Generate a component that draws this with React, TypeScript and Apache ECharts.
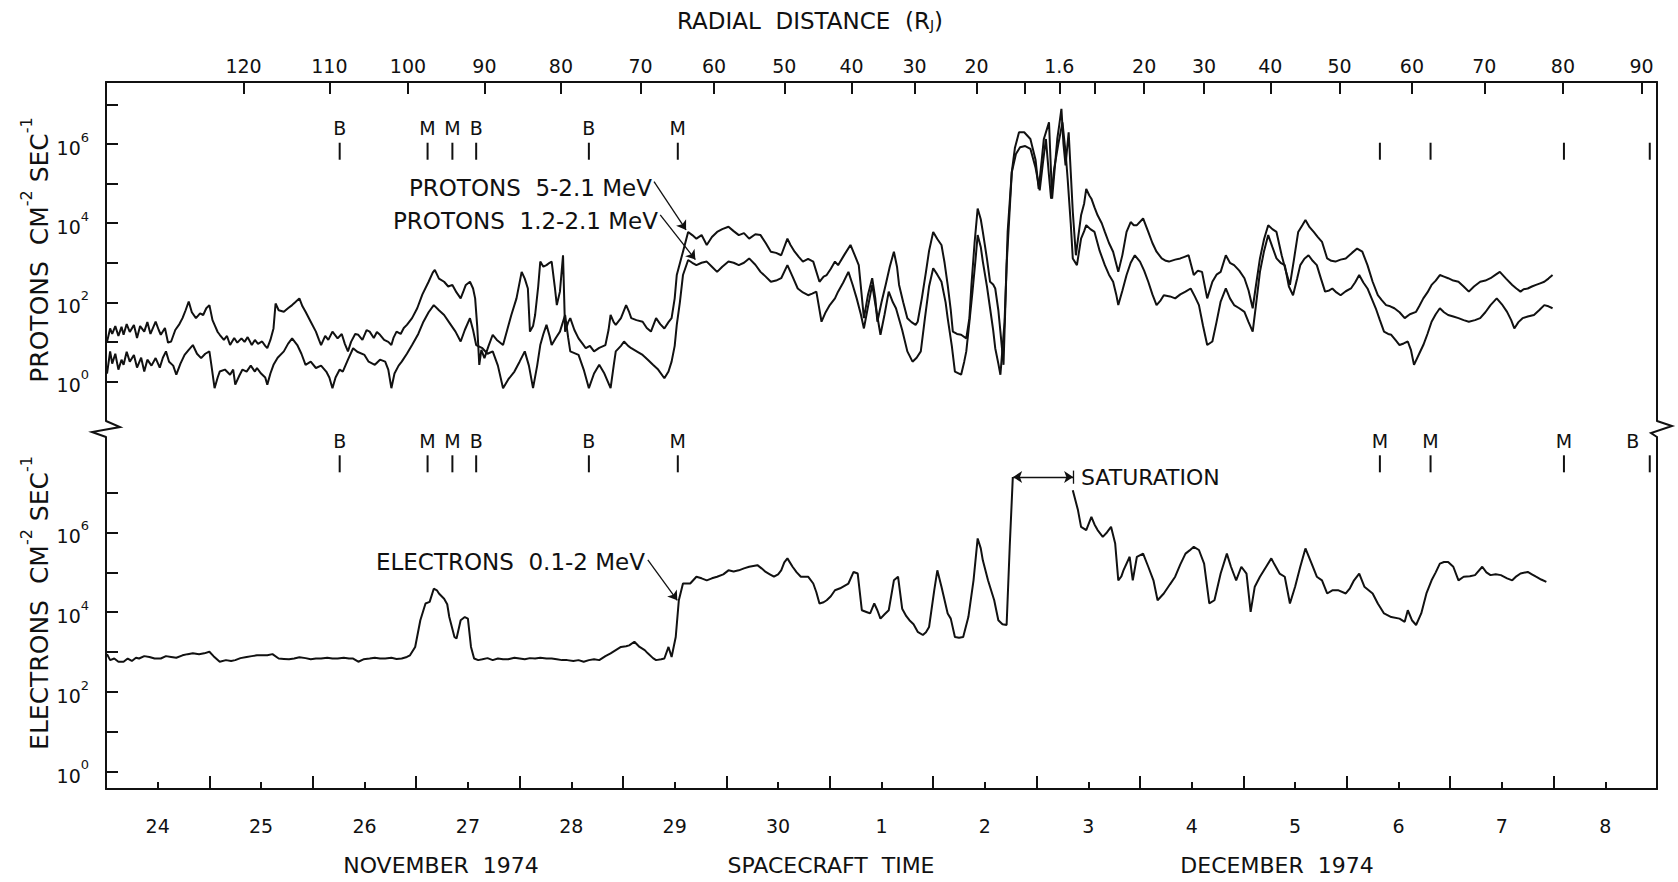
import { useEffect, useRef } from "react";
import * as echarts from "echarts";

// Time axis: days counted from the "24" (Nov 24) tick. Flux values: log10(flux).
const dateTickDays = [0, 1, 2, 3, 4, 5, 6, 7, 8, 9, 10, 11, 12, 13, 14];
const dateTickLabels = ["24", "25", "26", "27", "28", "29", "30", "1", "2", "3", "4", "5", "6", "7", "8"];
const halfDayTickDays = [0.5, 1.5, 2.5, 3.5, 4.5, 5.5, 6.5, 7.5, 8.5, 9.5, 10.5, 11.5, 12.5, 13.5];

const radialTickDays = [0.83, 1.66, 2.42, 3.16, 3.9, 4.67, 5.38, 6.06, 6.71, 7.32, 7.92, 8.39, 8.72, 9.06, 9.54, 10.12, 10.76, 11.43, 12.13, 12.83, 13.59, 14.35];
const radialTickLabels = ["120", "110", "100", "90", "80", "70", "60", "50", "40", "30", "20", "", "1.6", "", "20", "30", "40", "50", "60", "70", "80", "90"];

const decadeTicks = [0, 1, 2, 3, 4, 5, 6, 7];
const decadeLabels = [0, 2, 4, 6];

const markerDays = [1.76, 2.61, 2.85, 3.08, 4.17, 5.03, 11.82, 12.31, 13.6, 14.43];
const protonMarkerLetters = ["B", "M", "M", "B", "B", "M", "", "", "", ""];
const electronMarkerLetters = ["B", "M", "M", "B", "B", "M", "M", "M", "M", "B"];

// PROTONS .5-2.1 MeV  [day, log10 flux]
const protonsHigh = [
  [-0.49, 1.0], [-0.46, 1.34], [-0.44, 1.2], [-0.41, 1.4], [-0.38, 1.15], [-0.35, 1.38], [-0.33, 1.18], [-0.3, 1.45], [-0.27, 1.25], [-0.23, 1.43],
  [-0.2, 1.1], [-0.17, 1.4], [-0.13, 1.26], [-0.1, 1.5], [-0.07, 1.2], [-0.02, 1.51], [0.01, 1.3], [0.03, 1.18], [0.07, 1.35], [0.1, 0.98],
  [0.13, 1.01], [0.17, 1.3], [0.21, 1.45], [0.24, 1.6], [0.27, 1.8], [0.3, 2.02], [0.33, 1.75], [0.37, 1.6], [0.41, 1.72], [0.44, 1.68],
  [0.47, 1.85], [0.5, 1.93], [0.53, 1.55], [0.55, 1.43], [0.58, 1.25], [0.6, 1.18], [0.64, 1.05], [0.67, 1.15], [0.7, 0.92], [0.74, 1.1],
  [0.77, 0.98], [0.81, 1.09], [0.84, 1.0], [0.87, 1.12], [0.91, 0.92], [0.94, 1.05], [0.97, 0.95], [1.01, 1.01], [1.04, 0.9], [1.06, 0.84],
  [1.09, 1.05], [1.12, 1.34], [1.14, 1.97], [1.17, 1.8], [1.22, 1.76], [1.26, 1.85], [1.3, 1.93], [1.33, 2.0], [1.37, 2.1], [1.4, 1.9],
  [1.43, 1.76], [1.48, 1.51], [1.53, 1.26], [1.56, 1.05], [1.58, 0.92], [1.62, 1.15], [1.65, 1.05], [1.69, 1.26], [1.74, 1.09], [1.78, 1.2],
  [1.81, 0.95], [1.84, 0.76], [1.87, 1.0], [1.91, 1.2], [1.94, 1.18], [1.98, 1.05], [2.02, 1.3], [2.05, 1.26], [2.09, 1.1], [2.12, 1.25],
  [2.15, 1.18], [2.19, 1.05], [2.23, 1.0], [2.26, 0.92], [2.28, 1.1], [2.31, 1.26], [2.35, 1.2], [2.38, 1.35], [2.41, 1.43], [2.46, 1.6],
  [2.51, 1.85], [2.56, 2.2], [2.62, 2.52], [2.66, 2.75], [2.68, 2.82], [2.72, 2.6], [2.77, 2.52], [2.81, 2.4], [2.85, 2.44], [2.89, 2.25],
  [2.93, 2.1], [2.96, 2.3], [2.98, 2.44], [3.02, 2.52], [3.05, 2.35], [3.07, 2.1], [3.09, 1.4], [3.11, 0.42], [3.13, 0.8], [3.16, 0.59],
  [3.2, 0.9], [3.24, 1.18], [3.28, 1.05], [3.34, 0.92], [3.38, 1.3], [3.42, 1.68], [3.47, 2.1], [3.52, 2.77], [3.55, 2.6], [3.58, 2.35],
  [3.6, 1.26], [3.63, 1.4], [3.65, 1.68], [3.68, 2.4], [3.7, 3.03], [3.73, 2.9], [3.76, 2.94], [3.79, 3.0], [3.81, 3.03], [3.84, 2.4],
  [3.86, 1.93], [3.89, 2.27], [3.92, 3.19], [3.94, 1.26], [3.97, 1.5], [3.99, 1.6], [4.03, 1.3], [4.07, 1.09], [4.11, 0.95], [4.14, 0.84],
  [4.18, 0.9], [4.22, 0.76], [4.27, 0.85], [4.33, 0.92], [4.36, 1.3], [4.38, 1.68], [4.41, 1.5], [4.43, 1.43], [4.48, 1.6], [4.53, 1.93],
  [4.56, 1.75], [4.58, 1.6], [4.63, 1.55], [4.69, 1.51], [4.73, 1.35], [4.77, 1.26], [4.82, 1.6], [4.86, 1.45], [4.9, 1.34], [4.94, 1.5],
  [4.97, 1.6], [5.0, 2.1], [5.02, 2.69], [5.08, 3.28], [5.13, 3.78], [5.17, 3.7], [5.21, 3.61], [5.26, 3.7], [5.31, 3.45], [5.36, 3.65],
  [5.41, 3.78], [5.46, 3.85], [5.52, 3.91], [5.57, 3.8], [5.62, 3.7], [5.67, 3.75], [5.72, 3.61], [5.78, 3.72], [5.83, 3.7], [5.88, 3.5],
  [5.93, 3.28], [5.98, 3.25], [6.03, 3.19], [6.09, 3.61], [6.12, 3.45], [6.16, 3.28], [6.2, 3.15], [6.24, 3.03], [6.29, 3.1], [6.34, 3.03],
  [6.4, 2.52], [6.44, 2.65], [6.47, 2.69], [6.51, 2.85], [6.55, 3.03], [6.58, 2.94], [6.64, 3.2], [6.7, 3.45], [6.74, 3.2], [6.78, 2.94],
  [6.83, 1.6], [6.87, 2.2], [6.91, 2.61], [6.94, 2.1], [6.96, 1.51], [7.0, 2.0], [7.04, 2.44], [7.08, 2.9], [7.12, 3.28], [7.15, 2.9],
  [7.17, 2.44], [7.21, 2.0], [7.25, 1.6], [7.29, 1.5], [7.33, 1.43], [7.35, 1.51], [7.39, 2.1], [7.43, 2.77], [7.46, 3.3], [7.5, 3.78],
  [7.54, 3.6], [7.58, 3.45], [7.61, 3.0], [7.64, 2.44], [7.67, 1.8], [7.69, 1.26], [7.73, 1.2], [7.77, 1.18], [7.82, 1.09], [7.85, 1.6],
  [7.87, 2.44], [7.9, 3.5], [7.93, 4.37], [7.96, 4.1], [7.98, 3.78], [8.02, 3.1], [8.05, 2.52], [8.08, 2.45], [8.1, 2.35], [8.13, 1.8],
  [8.15, 1.26], [8.18, 0.42], [8.22, 3.78], [8.26, 5.29], [8.29, 5.9], [8.33, 6.3], [8.38, 6.3], [8.44, 6.13], [8.49, 5.6], [8.52, 4.87],
  [8.55, 5.6], [8.57, 6.13], [8.62, 6.55], [8.65, 4.62], [8.7, 6.13], [8.72, 6.5], [8.74, 6.89], [8.76, 6.0], [8.78, 5.46], [8.81, 6.3],
  [8.83, 5.3], [8.85, 4.29], [8.88, 3.19], [8.9, 3.6], [8.93, 4.2], [8.96, 4.5], [8.98, 4.87], [9.01, 4.7], [9.03, 4.62], [9.06, 4.4],
  [9.09, 4.2], [9.13, 4.0], [9.16, 3.78], [9.2, 3.5], [9.24, 3.28], [9.29, 2.77], [9.33, 3.2], [9.37, 3.78], [9.41, 4.03], [9.44, 3.95],
  [9.47, 3.95], [9.53, 4.12], [9.58, 3.78], [9.62, 3.5], [9.66, 3.28], [9.71, 3.11], [9.75, 3.05], [9.78, 3.03], [9.84, 3.08], [9.89, 3.11],
  [9.93, 3.15], [9.97, 3.19], [10.02, 2.69], [10.06, 2.8], [10.1, 2.77], [10.15, 2.1], [10.2, 2.52], [10.24, 2.7], [10.28, 2.77], [10.33, 3.19],
  [10.37, 3.0], [10.41, 2.94], [10.46, 2.8], [10.51, 2.61], [10.55, 2.3], [10.59, 1.85], [10.62, 2.4], [10.66, 3.11], [10.7, 3.6], [10.74, 3.95],
  [10.78, 3.85], [10.82, 3.78], [10.87, 3.19], [10.91, 2.8], [10.95, 2.44], [10.99, 3.1], [11.03, 3.78], [11.07, 3.95], [11.1, 4.08], [11.14, 3.9],
  [11.18, 3.78], [11.22, 3.65], [11.26, 3.53], [11.31, 3.11], [11.35, 3.05], [11.39, 3.03], [11.44, 3.08], [11.49, 3.11], [11.55, 3.25], [11.6, 3.36],
  [11.65, 3.28], [11.7, 2.94], [11.75, 2.52], [11.8, 2.18], [11.84, 2.05], [11.88, 1.93], [11.92, 1.9], [11.96, 1.85], [12.01, 1.75], [12.06, 1.6],
  [12.11, 1.7], [12.17, 1.76], [12.2, 1.9], [12.24, 2.1], [12.28, 2.25], [12.32, 2.44], [12.36, 2.55], [12.4, 2.69], [12.44, 2.65], [12.48, 2.61],
  [12.53, 2.55], [12.58, 2.52], [12.63, 2.4], [12.68, 2.27], [12.73, 2.4], [12.79, 2.52], [12.84, 2.55], [12.89, 2.61], [12.94, 2.7], [12.98, 2.77],
  [13.04, 2.6], [13.1, 2.44], [13.14, 2.35], [13.18, 2.27], [13.21, 2.33], [13.25, 2.35], [13.29, 2.4], [13.33, 2.44], [13.37, 2.48], [13.41, 2.52],
  [13.45, 2.6], [13.49, 2.69],
];

// PROTONS 1.2-2.1 MeV  [day, log10 flux]
const protonsLow = [
  [-0.49, 0.2], [-0.46, 0.76], [-0.44, 0.45], [-0.41, 0.7], [-0.38, 0.3], [-0.35, 0.55], [-0.33, 0.42], [-0.3, 0.75], [-0.27, 0.5], [-0.23, 0.67],
  [-0.2, 0.35], [-0.16, 0.6], [-0.13, 0.25], [-0.1, 0.55], [-0.06, 0.4], [-0.02, 0.59], [0.02, 0.35], [0.05, 0.6], [0.08, 0.76], [0.11, 0.5],
  [0.15, 0.4], [0.18, 0.17], [0.22, 0.45], [0.26, 0.67], [0.3, 0.8], [0.34, 0.92], [0.38, 0.7], [0.42, 0.59], [0.46, 0.7], [0.5, 0.76],
  [0.52, 0.4], [0.55, -0.17], [0.58, 0.1], [0.6, 0.25], [0.65, 0.3], [0.7, 0.17], [0.73, 0.3], [0.75, -0.08], [0.79, 0.15], [0.82, 0.3],
  [0.86, 0.25], [0.9, 0.4], [0.94, 0.25], [0.96, 0.34], [1.0, 0.2], [1.04, 0.1], [1.06, -0.08], [1.09, 0.2], [1.12, 0.42], [1.16, 0.6],
  [1.22, 0.76], [1.26, 0.95], [1.3, 1.09], [1.35, 0.92], [1.39, 0.7], [1.43, 0.42], [1.48, 0.5], [1.53, 0.34], [1.58, 0.4], [1.63, 0.25],
  [1.66, 0.1], [1.69, -0.17], [1.72, 0.1], [1.76, 0.3], [1.79, 0.25], [1.84, 0.55], [1.89, 0.84], [1.93, 0.75], [2.0, 0.67], [2.04, 0.5],
  [2.1, 0.42], [2.15, 0.55], [2.2, 0.5], [2.23, 0.3], [2.26, -0.17], [2.29, 0.2], [2.33, 0.4], [2.36, 0.5], [2.41, 0.7], [2.46, 0.92],
  [2.52, 1.2], [2.57, 1.51], [2.62, 1.75], [2.67, 1.93], [2.72, 1.8], [2.77, 1.68], [2.83, 1.45], [2.88, 1.26], [2.93, 1.01], [2.97, 1.3],
  [3.02, 1.6], [3.05, 1.3], [3.08, 0.92], [3.14, 0.84], [3.19, 0.7], [3.24, 0.76], [3.29, 0.4], [3.34, -0.17], [3.39, 0.05], [3.45, 0.25],
  [3.5, 0.5], [3.55, 0.76], [3.59, 0.4], [3.63, -0.17], [3.67, 0.4], [3.7, 0.92], [3.73, 1.2], [3.76, 1.43], [3.79, 1.15], [3.81, 0.92],
  [3.85, 1.1], [3.89, 1.26], [3.94, 1.68], [3.97, 1.1], [3.99, 0.76], [4.07, 0.67], [4.12, 0.3], [4.17, -0.17], [4.22, 0.2], [4.27, 0.42],
  [4.32, 0.2], [4.38, -0.17], [4.41, 0.4], [4.43, 0.76], [4.48, 0.9], [4.51, 1.01], [4.55, 0.9], [4.58, 0.84], [4.64, 0.75], [4.69, 0.67],
  [4.74, 0.55], [4.79, 0.42], [4.84, 0.3], [4.9, 0.08], [4.94, 0.25], [4.97, 0.5], [5.0, 0.9], [5.02, 1.43], [5.05, 2.0], [5.08, 2.69],
  [5.13, 3.07], [5.17, 3.0], [5.21, 2.94], [5.26, 3.0], [5.31, 3.03], [5.36, 2.9], [5.41, 2.77], [5.46, 2.9], [5.52, 3.03], [5.57, 3.0],
  [5.62, 2.94], [5.67, 3.0], [5.72, 3.11], [5.78, 2.95], [5.83, 2.77], [5.88, 2.65], [5.93, 2.52], [5.98, 2.55], [6.03, 2.61], [6.09, 2.94],
  [6.14, 2.65], [6.19, 2.35], [6.24, 2.25], [6.29, 2.18], [6.33, 2.22], [6.37, 2.27], [6.42, 1.51], [6.46, 1.75], [6.5, 1.93], [6.55, 2.1],
  [6.58, 2.27], [6.63, 2.5], [6.68, 2.77], [6.72, 2.45], [6.76, 2.1], [6.8, 1.7], [6.83, 1.34], [6.87, 1.9], [6.91, 2.44], [6.95, 1.8],
  [6.99, 1.18], [7.03, 1.7], [7.07, 2.27], [7.11, 2.0], [7.14, 1.85], [7.2, 1.3], [7.25, 0.76], [7.3, 0.5], [7.34, 0.6], [7.38, 0.76],
  [7.42, 1.6], [7.46, 2.4], [7.5, 2.86], [7.54, 2.7], [7.58, 2.52], [7.62, 2.0], [7.64, 1.6], [7.68, 0.9], [7.71, 0.25], [7.77, 0.17],
  [7.8, 0.5], [7.82, 0.76], [7.85, 1.5], [7.88, 2.27], [7.91, 3.1], [7.93, 3.7], [7.96, 3.4], [7.98, 3.03], [8.02, 2.4], [8.05, 1.85],
  [8.08, 1.3], [8.1, 0.84], [8.13, 0.45], [8.15, 0.17], [8.19, 1.5], [8.21, 2.94], [8.26, 5.29], [8.3, 5.75], [8.34, 5.92], [8.39, 5.95],
  [8.44, 5.88], [8.49, 5.4], [8.53, 4.83], [8.56, 5.5], [8.59, 6.13], [8.62, 5.2], [8.64, 4.62], [8.67, 5.38], [8.71, 6.0], [8.75, 6.55],
  [8.78, 5.8], [8.8, 5.13], [8.83, 4.0], [8.85, 3.11], [8.89, 2.94], [8.93, 3.61], [8.96, 3.8], [8.98, 3.95], [9.02, 3.85], [9.06, 3.78],
  [9.11, 3.3], [9.16, 2.94], [9.2, 2.7], [9.24, 2.52], [9.27, 2.2], [9.29, 1.93], [9.33, 2.3], [9.37, 2.69], [9.41, 3.0], [9.45, 3.19],
  [9.5, 3.03], [9.54, 2.8], [9.58, 2.52], [9.62, 2.2], [9.66, 1.93], [9.7, 2.05], [9.73, 2.18], [9.79, 2.15], [9.84, 2.1], [9.89, 2.2],
  [9.94, 2.27], [9.99, 2.35], [10.03, 2.15], [10.07, 1.93], [10.11, 1.4], [10.15, 0.92], [10.2, 1.01], [10.24, 1.5], [10.28, 2.02], [10.33, 2.35],
  [10.37, 2.1], [10.41, 1.93], [10.46, 1.85], [10.51, 1.76], [10.55, 1.5], [10.59, 1.26], [10.62, 1.9], [10.66, 2.77], [10.7, 3.3], [10.74, 3.7],
  [10.78, 3.4], [10.82, 3.11], [10.86, 3.0], [10.9, 2.94], [10.94, 2.4], [10.98, 2.18], [11.02, 2.6], [11.05, 2.94], [11.09, 3.1], [11.13, 3.19],
  [11.17, 3.05], [11.21, 2.94], [11.25, 2.6], [11.29, 2.27], [11.33, 2.3], [11.36, 2.35], [11.4, 2.25], [11.44, 2.18], [11.49, 2.28], [11.54, 2.35],
  [11.58, 2.5], [11.62, 2.69], [11.66, 2.5], [11.7, 2.35], [11.74, 2.1], [11.78, 1.85], [11.82, 1.55], [11.86, 1.26], [11.9, 1.2], [11.93, 1.18],
  [11.97, 1.05], [12.01, 0.92], [12.05, 0.96], [12.09, 1.01], [12.12, 0.8], [12.15, 0.42], [12.2, 0.7], [12.24, 0.92], [12.28, 1.2], [12.32, 1.51],
  [12.36, 1.7], [12.4, 1.85], [12.44, 1.75], [12.48, 1.68], [12.53, 1.64], [12.58, 1.6], [12.63, 1.55], [12.68, 1.51], [12.74, 1.55], [12.79, 1.6],
  [12.84, 1.75], [12.89, 1.93], [12.95, 2.1], [13.0, 1.95], [13.05, 1.76], [13.09, 1.55], [13.12, 1.34], [13.16, 1.5], [13.2, 1.6], [13.25, 1.64],
  [13.31, 1.68], [13.36, 1.8], [13.41, 1.93], [13.45, 1.9], [13.49, 1.85],
];

// ELECTRONS 0.1-2 MeV  [day, log10 flux]; null = saturation gap
const electrons = [
  [-0.49, 2.95], [-0.46, 2.8], [-0.42, 2.84], [-0.38, 2.76], [-0.33, 2.76], [-0.29, 2.84], [-0.25, 2.78], [-0.21, 2.86], [-0.18, 2.84], [-0.13, 2.9],
  [-0.08, 2.88], [-0.03, 2.84], [0.03, 2.84], [0.08, 2.9], [0.13, 2.88], [0.18, 2.86], [0.24, 2.92], [0.29, 2.95], [0.34, 2.97], [0.4, 2.95],
  [0.45, 2.97], [0.5, 3.01], [0.54, 2.9], [0.6, 2.76], [0.66, 2.8], [0.71, 2.78], [0.75, 2.8], [0.8, 2.85], [0.86, 2.88], [0.91, 2.9],
  [0.96, 2.92], [1.01, 2.92], [1.06, 2.92], [1.11, 2.95], [1.17, 2.84], [1.22, 2.83], [1.27, 2.82], [1.32, 2.84], [1.37, 2.87], [1.43, 2.85],
  [1.48, 2.82], [1.53, 2.84], [1.58, 2.84], [1.64, 2.86], [1.69, 2.84], [1.74, 2.84], [1.8, 2.86], [1.85, 2.84], [1.89, 2.84], [1.94, 2.76],
  [1.99, 2.82], [2.05, 2.84], [2.1, 2.86], [2.15, 2.84], [2.2, 2.84], [2.26, 2.86], [2.31, 2.83], [2.36, 2.84], [2.41, 2.88], [2.44, 2.92],
  [2.49, 3.13], [2.54, 3.8], [2.59, 4.22], [2.63, 4.26], [2.67, 4.59], [2.7, 4.55], [2.72, 4.47], [2.77, 4.34], [2.8, 4.2], [2.82, 3.88],
  [2.87, 3.38], [2.89, 3.34], [2.93, 3.8], [2.97, 3.88], [3.0, 3.84], [3.03, 3.13], [3.06, 2.84], [3.1, 2.8], [3.14, 2.82], [3.19, 2.85],
  [3.24, 2.8], [3.29, 2.84], [3.34, 2.82], [3.39, 2.82], [3.45, 2.86], [3.5, 2.84], [3.55, 2.82], [3.6, 2.85], [3.65, 2.84], [3.7, 2.86],
  [3.76, 2.84], [3.81, 2.84], [3.86, 2.82], [3.91, 2.8], [3.96, 2.8], [4.02, 2.78], [4.07, 2.8], [4.12, 2.76], [4.17, 2.8], [4.22, 2.82],
  [4.27, 2.8], [4.33, 2.9], [4.38, 2.97], [4.43, 3.05], [4.48, 3.13], [4.53, 3.15], [4.56, 3.17], [4.61, 3.26], [4.66, 3.13], [4.71, 3.05],
  [4.74, 2.97], [4.79, 2.85], [4.82, 2.8], [4.87, 2.82], [4.9, 2.84], [4.94, 3.13], [4.97, 2.88], [5.01, 3.38], [5.04, 4.3], [5.08, 4.72],
  [5.15, 4.72], [5.21, 4.89], [5.26, 4.85], [5.31, 4.8], [5.36, 4.85], [5.41, 4.89], [5.47, 4.95], [5.52, 5.05], [5.57, 5.02], [5.62, 5.05],
  [5.67, 5.1], [5.72, 5.14], [5.8, 5.18], [5.84, 5.1], [5.88, 5.01], [5.92, 4.95], [5.96, 4.89], [6.0, 4.95], [6.03, 5.05], [6.06, 5.25],
  [6.09, 5.35], [6.14, 5.14], [6.18, 5.0], [6.22, 4.89], [6.29, 4.89], [6.34, 4.72], [6.37, 4.5], [6.4, 4.22], [6.44, 4.25], [6.47, 4.3],
  [6.51, 4.4], [6.55, 4.55], [6.6, 4.6], [6.68, 4.72], [6.73, 5.01], [6.77, 4.97], [6.81, 4.05], [6.86, 4.0], [6.89, 3.97], [6.93, 4.22],
  [6.96, 4.05], [6.99, 3.84], [7.03, 3.95], [7.07, 4.05], [7.12, 4.8], [7.16, 4.89], [7.2, 4.09], [7.24, 3.9], [7.27, 3.8], [7.31, 3.7],
  [7.35, 3.51], [7.4, 3.43], [7.43, 3.5], [7.46, 3.63], [7.51, 4.55], [7.54, 5.05], [7.58, 4.64], [7.64, 3.97], [7.67, 3.84], [7.71, 3.38],
  [7.75, 3.36], [7.79, 3.38], [7.84, 3.88], [7.89, 4.8], [7.93, 5.85], [7.96, 5.6], [7.98, 5.3], [8.03, 4.8], [8.09, 4.3], [8.13, 3.8],
  [8.17, 3.7], [8.21, 3.68], [8.24, 5.64], [8.27, 7.39], [8.56, null], [8.85, 7.06], [8.9, 6.56], [8.93, 6.14], [8.98, 6.06], [9.03, 6.39],
  [9.06, 6.2], [9.09, 6.06], [9.14, 5.89], [9.18, 6.0], [9.22, 6.14], [9.26, 5.72], [9.29, 4.8], [9.32, 4.9], [9.34, 5.05], [9.4, 5.39],
  [9.43, 4.8], [9.47, 5.39], [9.53, 5.47], [9.58, 5.14], [9.63, 4.8], [9.67, 4.3], [9.73, 4.47], [9.79, 4.7], [9.84, 4.89], [9.89, 5.2],
  [9.94, 5.47], [9.98, 5.55], [10.02, 5.64], [10.07, 5.56], [10.12, 5.22], [10.17, 4.22], [10.22, 4.3], [10.28, 4.97], [10.34, 5.47], [10.38, 5.14],
  [10.43, 4.8], [10.48, 5.14], [10.53, 4.97], [10.57, 4.01], [10.61, 4.64], [10.66, 4.89], [10.72, 5.14], [10.77, 5.35], [10.8, 5.2], [10.85, 4.97],
  [10.9, 4.89], [10.95, 4.22], [11.0, 4.64], [11.05, 5.14], [11.1, 5.6], [11.16, 5.22], [11.21, 4.89], [11.26, 4.8], [11.31, 4.47], [11.36, 4.55],
  [11.42, 4.55], [11.49, 4.47], [11.53, 4.6], [11.57, 4.8], [11.62, 4.97], [11.67, 4.64], [11.75, 4.47], [11.8, 4.22], [11.86, 3.97], [11.93, 3.88],
  [12.01, 3.84], [12.06, 3.76], [12.09, 4.05], [12.13, 3.8], [12.17, 3.68], [12.22, 3.97], [12.27, 4.47], [12.32, 4.8], [12.36, 5.0], [12.4, 5.22],
  [12.44, 5.26], [12.48, 5.26], [12.53, 5.14], [12.58, 4.8], [12.63, 4.89], [12.69, 4.9], [12.74, 4.93], [12.81, 5.14], [12.85, 5.0], [12.89, 4.93],
  [12.94, 4.95], [12.99, 4.93], [13.05, 4.85], [13.1, 4.8], [13.14, 4.9], [13.18, 4.97], [13.25, 5.01], [13.29, 4.95], [13.33, 4.89], [13.38, 4.82],
  [13.43, 4.76],
];

const INK = "#111111";
const FONT = "'DejaVu Sans', 'Liberation Sans', Arial, sans-serif";
const X_MIN = -0.5;
const X_MAX = 14.5;

const findLabel = (days: number[], labels: string[], v: number) => {
  const i = days.findIndex((d) => Math.abs(d - v) < 1e-3);
  return i >= 0 ? labels[i] : "";
};

const supRich = (size: number) => ({
  n: { fontSize: size, fontFamily: FONT, color: INK, lineHeight: Math.round(size * 1.3), verticalAlign: "bottom" },
  s: { fontSize: Math.round(size * 0.62), fontFamily: FONT, color: INK, lineHeight: Math.round(size * 0.62), verticalAlign: "top" },
  u: { fontSize: Math.round(size * 0.62), fontFamily: FONT, color: INK, lineHeight: Math.round(size * 0.62), verticalAlign: "bottom" },
});

const text = (x: number, y: number, t: string, align: string, size = 22, extra: any = {}) => ({
  type: "text",
  x,
  y,
  silent: true,
  ...extra,
  style: {
    text: t,
    fill: INK,
    fontFamily: FONT,
    fontSize: size,
    align,
    textAlign: align,
    verticalAlign: "middle",
    textVerticalAlign: "middle",
    rich: supRich(size),
  },
});

const axisLineStyle = { color: INK, width: 2 };

function buildOption() {
  const yAxisBase = (grid: number, min: number, max: number) => ({
    type: "value",
    gridIndex: grid,
    position: "left",
    min,
    max,
    axisLine: { show: true, onZero: false, lineStyle: axisLineStyle },
    axisTick: { show: true, inside: true, length: 12, lineStyle: { color: INK, width: 2 }, customValues: decadeTicks },
    axisLabel: {
      show: true,
      margin: 17,
      customValues: decadeLabels,
      formatter: (v: number) => `{b|10}{s|${Math.round(v)}}`,
      rich: {
        b: { fontSize: 19, fontFamily: FONT, color: INK, lineHeight: 27, verticalAlign: "bottom" },
        s: { fontSize: 13, fontFamily: FONT, color: INK, lineHeight: 13, verticalAlign: "top" },
      },
    },
    splitLine: { show: false },
  });
  const yRight = (grid: number, min: number, max: number) => ({
    type: "value",
    gridIndex: grid,
    position: "right",
    min,
    max,
    axisLine: { show: true, onZero: false, lineStyle: axisLineStyle },
    axisTick: { show: false },
    axisLabel: { show: false },
    splitLine: { show: false },
  });

  const markerSeries = (letters: string[], yVal: number, xIdx: number, yIdx: number) => ({
    type: "scatter",
    xAxisIndex: xIdx,
    yAxisIndex: yIdx,
    symbol: "rect",
    symbolSize: [2, 17],
    itemStyle: { color: INK, opacity: 1 },
    silent: true,
    z: 4,
    label: { show: true, position: "top", distance: 5, color: INK, fontFamily: FONT, fontSize: 19, opacity: 1 },
    data: markerDays.map((d, i) => ({
      value: [d, yVal],
      label: letters[i]
        ? { show: true, formatter: letters[i], color: INK, offset: i === markerDays.length - 1 ? [-17, 0] : [0, 0] }
        : { show: false },
    })),
  });

  const lineSeries = (data: any[], xIdx: number, yIdx: number, markLine?: any) => ({
    type: "line",
    xAxisIndex: xIdx,
    yAxisIndex: yIdx,
    data,
    symbol: "none",
    showSymbol: false,
    connectNulls: false,
    silent: true,
    lineStyle: { color: INK, width: 2 },
    z: 3,
    ...(markLine ? { markLine } : {}),
  });

  const arrowMark = (data: any[]) => ({
    silent: true,
    symbol: ["none", "arrow"],
    symbolSize: 9,
    label: { show: false },
    emphasis: { disabled: true },
    lineStyle: { color: INK, width: 1.3, type: "solid", opacity: 1 },
    itemStyle: { color: INK },
    data,
  });

  return {
    animation: false,
    backgroundColor: "#ffffff",
    grid: [
      { left: 106, top: 82, width: 1551, height: 339, containLabel: false, outerBoundsMode: "none" },
      { left: 106, top: 437, width: 1551, height: 352, containLabel: false, outerBoundsMode: "none" },
    ],
    xAxis: [
      {
        type: "value",
        gridIndex: 0,
        position: "top",
        min: X_MIN,
        max: X_MAX,
        axisLine: { show: true, onZero: false, lineStyle: axisLineStyle },
        axisTick: { show: true, inside: true, length: 12, lineStyle: { color: INK, width: 2 }, customValues: radialTickDays },
        axisLabel: {
          show: true,
          margin: 7,
          customValues: radialTickDays,
          color: INK,
          fontFamily: FONT,
          fontSize: 19,
          formatter: (v: number) => findLabel(radialTickDays, radialTickLabels, v),
        },
        splitLine: { show: false },
      },
      {
        type: "value",
        gridIndex: 1,
        position: "bottom",
        min: X_MIN,
        max: X_MAX,
        axisLine: { show: true, onZero: false, lineStyle: axisLineStyle },
        axisTick: { show: true, inside: true, length: 7, lineStyle: { color: INK, width: 2 }, customValues: dateTickDays },
        axisLabel: {
          show: true,
          margin: 27,
          customValues: dateTickDays,
          color: INK,
          fontFamily: FONT,
          fontSize: 19,
          formatter: (v: number) => findLabel(dateTickDays, dateTickLabels, v),
        },
        splitLine: { show: false },
      },
      {
        type: "value",
        gridIndex: 1,
        position: "bottom",
        min: X_MIN,
        max: X_MAX,
        axisLine: { show: false, onZero: false },
        axisTick: { show: true, inside: true, length: 13, lineStyle: { color: INK, width: 2 }, customValues: halfDayTickDays },
        axisLabel: { show: false },
        splitLine: { show: false },
      },
    ],
    yAxis: [yAxisBase(0, -1, 7.57), yRight(0, -1, 7.57), yAxisBase(1, -0.43, 8.392), yRight(1, -0.43, 8.392)],
    series: [
      lineSeries(protonsHigh, 0, 0, arrowMark([
        [{ coord: [4.8, 5.05] }, { coord: [5.11, 3.83] }],
        [{ coord: [4.86, 4.21] }, { coord: [5.2, 3.08] }],
      ])),
      lineSeries(protonsLow, 0, 0),
      lineSeries(electrons, 1, 2, arrowMark([
        [{ coord: [4.74, 5.31] }, { coord: [5.025, 4.3] }],
        [{ coord: [8.273, 7.39], symbol: "arrow" }, { coord: [8.853, 7.39], symbol: "arrow" }],
        [{ coord: [8.853, 7.22], symbol: "none" }, { coord: [8.853, 7.55], symbol: "none" }],
      ])),
      markerSeries(protonMarkerLetters, 5.82, 0, 0),
      markerSeries(electronMarkerLetters, 7.72, 1, 2),
    ],
    graphic: {
      elements: [
        {
          type: "polyline",
          silent: true,
          shape: { points: [[106, 421], [120, 427], [92, 432], [106, 437]] },
          style: { stroke: INK, lineWidth: 2, fill: "none" },
        },
        {
          type: "polyline",
          silent: true,
          shape: { points: [[1657, 421], [1672, 426], [1651, 433], [1657, 437]] },
          style: { stroke: INK, lineWidth: 2, fill: "none" },
        },
        text(810, 17, "{n|RADIAL  DISTANCE  (R}{u|J}{n|)}", "center", 23),
        text(652, 188, "PROTONS  5-2.1 MeV", "right", 23),
        text(658, 221, "PROTONS  1.2-2.1 MeV", "right", 23),
        text(645, 562, "ELECTRONS  0.1-2 MeV", "right", 23),
        text(1081, 477, "SATURATION", "left", 22),
        text(441, 865, "NOVEMBER  1974", "center", 22),
        text(831, 865, "SPACECRAFT  TIME", "center", 22),
        text(1277, 865, "DECEMBER  1974", "center", 22),
        text(35, 250, "{n|PROTONS  CM}{s|-2}{n| SEC}{s|-1}", "center", 25, { rotation: Math.PI / 2 }),
        text(35, 603, "{n|ELECTRONS  CM}{s|-2}{n| SEC}{s|-1}", "center", 25, { rotation: Math.PI / 2 }),
      ],
    },
  };
}

export default function App() {
  const ref = useRef<HTMLDivElement>(null);
  useEffect(() => {
    if (!ref.current) return;
    const chart = echarts.init(ref.current, null, { renderer: "svg" });
    chart.setOption(buildOption() as any);
    return () => chart.dispose();
  }, []);
  return (
    <div
      ref={ref}
      style={{ position: "fixed", left: 0, top: 0, width: 1678, height: 882, background: "#ffffff" }}
    />
  );
}
